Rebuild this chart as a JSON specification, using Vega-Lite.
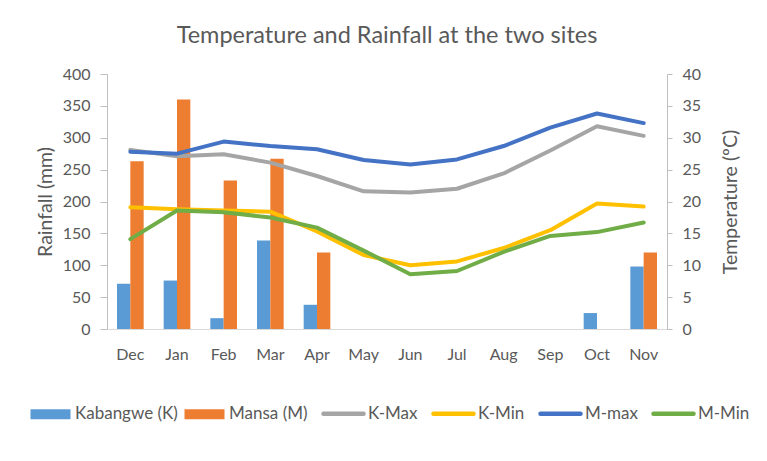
{
  "$schema": "https://vega.github.io/schema/vega-lite/v6.json",
  "width": 560,
  "height": 255,
  "autosize": {"type": "none"},
  "padding": {"left": 107, "top": 74, "right": 100, "bottom": 132},
  "background": "white",
  "title": {"text": "Temperature and Rainfall at the two sites", "fontSize": 23.5, "font": "Lato", "fontWeight": "normal", "color": "#595959", "offset": 19, "anchor": "middle"},
  "config": {
    "view": {"stroke": null},
    "font": "Lato",
    "axis": {"labelFont": "Lato", "labelFontSize": 16, "labelColor": "#595959", "titleFont": "Lato", "titleFontSize": 19.5, "titleFontWeight": "normal", "titleColor": "#595959", "domainColor": "#BFBFBF", "tickColor": "#BFBFBF", "grid": false}
  },
  "datasets": {
    "rain": [
      {"month": "Dec", "series": "Kabangwe (K)", "rain": 71},
      {"month": "Jan", "series": "Kabangwe (K)", "rain": 76},
      {"month": "Feb", "series": "Kabangwe (K)", "rain": 17},
      {"month": "Mar", "series": "Kabangwe (K)", "rain": 139},
      {"month": "Apr", "series": "Kabangwe (K)", "rain": 38},
      {"month": "Oct", "series": "Kabangwe (K)", "rain": 25},
      {"month": "Nov", "series": "Kabangwe (K)", "rain": 98},
      {"month": "Dec", "series": "Mansa (M)", "rain": 263},
      {"month": "Jan", "series": "Mansa (M)", "rain": 360},
      {"month": "Feb", "series": "Mansa (M)", "rain": 233},
      {"month": "Mar", "series": "Mansa (M)", "rain": 267},
      {"month": "Apr", "series": "Mansa (M)", "rain": 120},
      {"month": "Nov", "series": "Mansa (M)", "rain": 120}
    ],
    "temp": [
      {"month": "Dec", "series": "K-Max", "temp": 28.1},
      {"month": "Jan", "series": "K-Max", "temp": 27.1},
      {"month": "Feb", "series": "K-Max", "temp": 27.4},
      {"month": "Mar", "series": "K-Max", "temp": 26.1},
      {"month": "Apr", "series": "K-Max", "temp": 24.0},
      {"month": "May", "series": "K-Max", "temp": 21.6},
      {"month": "Jun", "series": "K-Max", "temp": 21.4},
      {"month": "Jul", "series": "K-Max", "temp": 22.0},
      {"month": "Aug", "series": "K-Max", "temp": 24.4},
      {"month": "Sep", "series": "K-Max", "temp": 28.0},
      {"month": "Oct", "series": "K-Max", "temp": 31.8},
      {"month": "Nov", "series": "K-Max", "temp": 30.3},
      {"month": "Dec", "series": "K-Min", "temp": 19.1},
      {"month": "Jan", "series": "K-Min", "temp": 18.8},
      {"month": "Feb", "series": "K-Min", "temp": 18.6},
      {"month": "Mar", "series": "K-Min", "temp": 18.4},
      {"month": "Apr", "series": "K-Min", "temp": 15.3},
      {"month": "May", "series": "K-Min", "temp": 11.6},
      {"month": "Jun", "series": "K-Min", "temp": 10.0},
      {"month": "Jul", "series": "K-Min", "temp": 10.6},
      {"month": "Aug", "series": "K-Min", "temp": 12.7},
      {"month": "Sep", "series": "K-Min", "temp": 15.5},
      {"month": "Oct", "series": "K-Min", "temp": 19.7},
      {"month": "Nov", "series": "K-Min", "temp": 19.2},
      {"month": "Dec", "series": "M-max", "temp": 27.8},
      {"month": "Jan", "series": "M-max", "temp": 27.5},
      {"month": "Feb", "series": "M-max", "temp": 29.4},
      {"month": "Mar", "series": "M-max", "temp": 28.7},
      {"month": "Apr", "series": "M-max", "temp": 28.2},
      {"month": "May", "series": "M-max", "temp": 26.5},
      {"month": "Jun", "series": "M-max", "temp": 25.8},
      {"month": "Jul", "series": "M-max", "temp": 26.6},
      {"month": "Aug", "series": "M-max", "temp": 28.7},
      {"month": "Sep", "series": "M-max", "temp": 31.6},
      {"month": "Oct", "series": "M-max", "temp": 33.8},
      {"month": "Nov", "series": "M-max", "temp": 32.3},
      {"month": "Dec", "series": "M-Min", "temp": 14.1},
      {"month": "Jan", "series": "M-Min", "temp": 18.6},
      {"month": "Feb", "series": "M-Min", "temp": 18.3},
      {"month": "Mar", "series": "M-Min", "temp": 17.5},
      {"month": "Apr", "series": "M-Min", "temp": 15.9},
      {"month": "May", "series": "M-Min", "temp": 12.3},
      {"month": "Jun", "series": "M-Min", "temp": 8.6},
      {"month": "Jul", "series": "M-Min", "temp": 9.1},
      {"month": "Aug", "series": "M-Min", "temp": 12.1},
      {"month": "Sep", "series": "M-Min", "temp": 14.6},
      {"month": "Oct", "series": "M-Min", "temp": 15.2},
      {"month": "Nov", "series": "M-Min", "temp": 16.7}
    ]
  },
  "layer": [
    {
      "data": {"name": "rain"},
      "mark": {"type": "bar"},
      "encoding": {
        "x": {"field": "month", "type": "nominal", "scale": {"domain": ["Dec", "Jan", "Feb", "Mar", "Apr", "May", "Jun", "Jul", "Aug", "Sep", "Oct", "Nov"], "paddingInner": 0, "paddingOuter": 0}, "axis": {"title": null, "ticks": false, "labelAngle": 0, "labelPadding": 17, "domainColor": "#D9D9D9"}},
        "xOffset": {"field": "series", "type": "nominal", "scale": {"domain": ["Kabangwe (K)", "Mansa (M)"], "paddingOuter": 0.75, "paddingInner": 0}},
        "y": {"field": "rain", "type": "quantitative", "scale": {"domain": [0, 400]}, "axis": {"title": "Rainfall (mm)", "values": [0, 50, 100, 150, 200, 250, 300, 350, 400], "tickSize": 7, "labelPadding": 10, "titlePadding": 7}},
        "color": {
          "field": "series", "type": "nominal",
          "scale": {"domain": ["Kabangwe (K)", "Mansa (M)", "K-Max", "K-Min", "M-max", "M-Min"], "range": ["#5B9BD5", "#ED7D31", "#A5A5A5", "#FFC000", "#4472C4", "#70AD47"]},
          "legend": {
            "orient": "none", "legendX": -65, "legendY": 331, "direction": "horizontal", "title": null, "padding": 0,
            "symbolSize": 1600, "symbolType": "stroke", "labelFontSize": 17, "labelFont": "Lato", "labelColor": "#595959", "labelOffset": 16, "columnPadding": 6,
            "encode": {"symbols": {"update": {
              "shape": {"signal": "indexof(['Kabangwe (K)','Mansa (M)'], datum.value) >= 0 ? 'M-1,-0.25H1V0.25H-1Z' : 'stroke'"},
              "fill": {"signal": "indexof(['Kabangwe (K)','Mansa (M)'], datum.value) >= 0 ? scale('color', datum.value) : 'transparent'"},
              "stroke": {"signal": "indexof(['Kabangwe (K)','Mansa (M)'], datum.value) >= 0 ? 'transparent' : scale('color', datum.value)"},
              "strokeWidth": {"signal": "indexof(['Kabangwe (K)','Mansa (M)'], datum.value) >= 0 ? 0 : 4.5"},
              "strokeCap": {"value": "round"},
              "size": {"value": 1600},
              "opacity": {"value": 1}
            }}}
          }
        }
      }
    },
    {
      "data": {"name": "temp"},
      "mark": {"type": "line", "strokeWidth": 4, "strokeCap": "round", "strokeJoin": "round"},
      "encoding": {
        "x": {"field": "month", "type": "nominal"},
        "y": {"field": "temp", "type": "quantitative", "scale": {"domain": [0, 40]}, "axis": {"orient": "right", "title": "Temperature (ºC)", "titleAngle": 270, "values": [0, 5, 10, 15, 20, 25, 30, 35, 40], "tickSize": 5, "labelPadding": 10, "titlePadding": 40}},
        "color": {"field": "series", "type": "nominal"}
      }
    }
  ],
  "resolve": {"scale": {"y": "independent"}}
}
